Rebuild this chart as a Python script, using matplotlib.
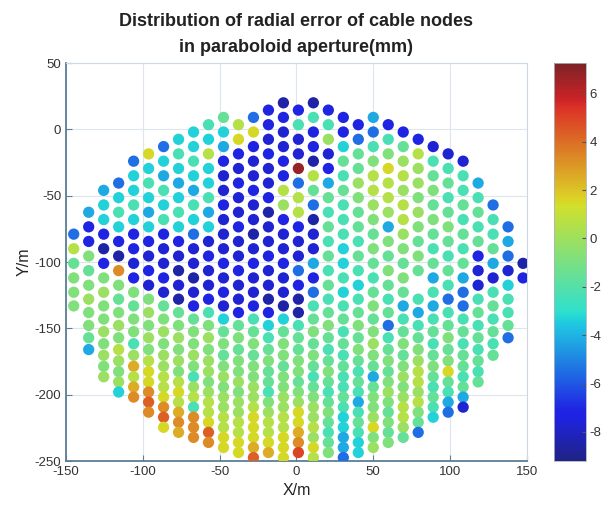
import numpy as np
import matplotlib
matplotlib.use("Agg")
import matplotlib.pyplot as plt
from matplotlib.colors import ListedColormap

plt.rcParams["font.family"] = ["Liberation Sans", "DejaVu Sans"]
plt.rcParams["axes.unicode_minus"] = False

# ---- data ----
# x position (m) of every column of cable nodes
COL_X = [-145, -135.25, -125.5, -115.75, -106, -96.25, -86.5, -76.75, -67,
         -57.25, -47.5, -37.75, -28, -18.25, -8.5, 1.25, 11, 20.75, 30.5,
         40.25, 50, 59.75, 69.5, 79.25, 89, 98.75, 108.5, 118.25, 128,
         137.75, 147.5]

# y position (m) of every node row; neighbouring columns are staggered,
# so one column uses every second row
ROW_Y = [20, 14.5, 9, 3.5, -2, -7.5, -13, -18.5, -24, -29.5, -35, -40.5,
         -46, -51.5, -57, -62.5, -68, -73.5, -79, -84.5, -90, -95.5, -101,
         -106.5, -112, -117.5, -122.8, -128, -133.1, -138.1, -143, -147.8,
         -152.5, -157.1, -161.6, -166, -170.3, -174.5, -178.6, -182.6,
         -186.5, -190.4, -194.2, -198, -201.8, -205.6, -209.4, -213.2, -217,
         -220.8, -224.6, -228.4, -232.2, -236, -239.8, -243.6, -247.4]

# first row used by each column
COL_TOP = [18, 15, 12, 11, 8, 7, 6, 5, 4, 3, 2, 3, 2, 1, 0, 1, 0, 1, 2, 3,
           2, 3, 4, 5, 6, 7, 8, 11, 14, 17, 22]

# radial error of each node, top to bottom, one letter per node ('.' = no node)
COL_CODES = [
    "dkhiii",
    "eccihijiihe",
    "effcacijiijijij",
    "dfgfcanihijikjijf",
    "dffgfccbcihiigjmkmn",
    "lfgfefcbcbijijikllnon",
    "dfegfgcbbcbhijijjkklnol",
    "fgfefgfcbabahijijiklkmnm",
    "ffgfegfdbbabchiijigjkgnnn",
    "gfkffgefbcbbcgijijjijkklon",
    "hfecbbcbbbcbcbfhihijijjkkll",
    "klcbcbbcbbcbbchihiijijjkkll",
    "dlcbbcbbabcbbcghihiijjklllmo",
    "ccbcbbcabbcbbacfghihhgijkklm",
    "acbbcckjcbbcbbafhiihiijjkklll",
    "cgbbqdkkcbbdcaaghhiihijllmnp",
    "agccakhdabbecdghihihghijjkjlk",
    "cgjbcehghghghghihghihghihghi",
    "ccfhghgggffgfghghghgghgffeed",
    "cdhhjihhghgfghihihghgeghgff",
    "edgikkjihihghihijihehiijlij",
    "cgilkkjeihihghdghihijihihi",
    "chjkjkkjihiheghihijijkkjh",
    "ckjjijihih.geghijkkjkihd",
    "bghihihghegeghghihghgf",
    "bghghihghgdghihilhged",
    "bgghghgheddghghhgheb",
    "eghghcbbghghghgh",
    "dgghebghghgh",
    "dedbfgghd",
    "ac",
]

CODE_VALUES = {"a": -8.5, "b": -7.7, "c": -7.1, "d": -5.5, "e": -4.2,
               "f": -3.3, "g": -2.3, "h": -1.5, "i": -0.8, "j": -0.1,
               "k": 0.6, "l": 1.5, "m": 2.5, "n": 3.3, "o": 4.3, "p": 5.0,
               "q": 6.8}

X_TICKS = [-150, -100, -50, 0, 50, 100, 150]
Y_TICKS = [-250, -200, -150, -100, -50, 0, 50]
CBAR_TICKS = [-8, -6, -4, -2, 0, 2, 4, 6]


def muted_jet():
    # the printed figure shows a slightly greyed jet map
    base = plt.get_cmap("jet")(np.linspace(0, 1, 256))
    grey = np.array([0.47, 0.53, 0.58, 1.0])
    return ListedColormap(0.74 * base + 0.26 * grey)


def main():
    xs, ys, vals = [], [], []
    for x, top, codes in zip(COL_X, COL_TOP, COL_CODES):
        for i, ch in enumerate(codes):
            if ch == ".":
                continue
            xs.append(x)
            ys.append(ROW_Y[top + 2 * i])
            vals.append(CODE_VALUES[ch])

    fig = plt.figure(figsize=(6.08, 5.14), dpi=100)
    ax = fig.add_axes([0.1086, 0.1031, 0.758, 0.7743])
    cax = fig.add_axes([0.911, 0.1031, 0.052, 0.7743])

    sc = ax.scatter(xs, ys, c=vals, cmap=muted_jet(), vmin=-9.2, vmax=7.25,
                    s=66, edgecolors="none", zorder=3)

    ax.set_xlim(-150, 150)
    ax.set_ylim(-250, 50)
    ax.set_xticks(X_TICKS)
    ax.set_yticks(Y_TICKS)
    ax.grid(True, color="#dde6ee", lw=0.8)
    ax.set_axisbelow(True)
    ax.tick_params(direction="in", length=4, labelsize=9.5,
                   color="#5b7f95", labelcolor="#333333")
    for side in ("left", "bottom"):
        ax.spines[side].set_color("#5b7f95")
        ax.spines[side].set_linewidth(1.3)
    for side in ("top", "right"):
        ax.spines[side].set_color("#cdd8e0")
        ax.spines[side].set_linewidth(0.8)

    ax.set_xlabel("X/m", fontsize=11.5, color="#222222", labelpad=4)
    ax.set_ylabel("Y/m", fontsize=11.5, color="#222222", labelpad=2)
    ax.set_title("Distribution of radial error of cable nodes\n"
                 "in paraboloid aperture(mm)",
                 fontsize=13, fontweight="bold", color="#222222",
                 linespacing=1.65, pad=8)

    cb = fig.colorbar(sc, cax=cax, ticks=CBAR_TICKS)
    cb.outline.set_edgecolor("#aab4bc")
    cb.outline.set_linewidth(0.6)
    cax.tick_params(direction="in", length=3, labelsize=9.5, pad=3,
                    color="#555555", labelcolor="#333333")

    fig.savefig("out.png", dpi=100)


if __name__ == "__main__":
    main()
